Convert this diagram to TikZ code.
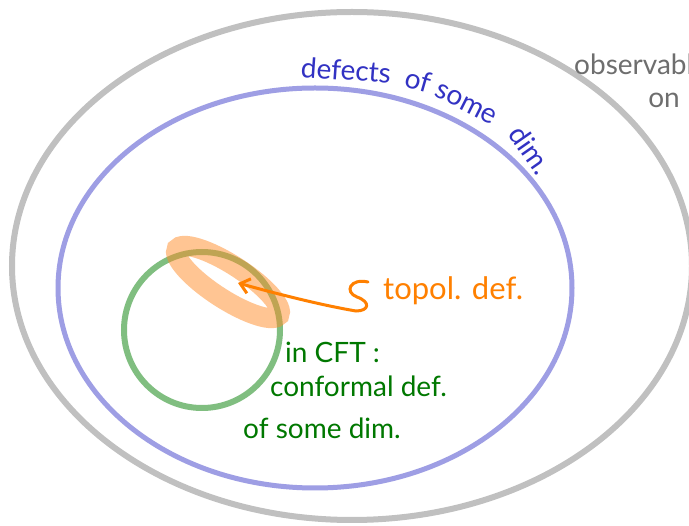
\documentclass[tikz,border=0pt]{standalone}
\usepackage{fontspec}
\setmainfont{Lato}
\usetikzlibrary{arrows.meta}
\definecolor{grayring}{RGB}{192,192,192}
\definecolor{bluering}{RGB}{158,158,228}
\definecolor{greenring}{RGB}{128,190,128}
\definecolor{orangeband}{RGB}{255,140,40}
\definecolor{orangetext}{RGB}{255,128,0}
\definecolor{bluetext}{RGB}{50,50,195}
\definecolor{greentext}{RGB}{0,120,0}
\definecolor{graytext}{RGB}{110,110,110}
\tikzset{
  ring/.style={line width=#1},
  lbl/.style={inner sep=0pt, font=\fontsize{28}{32}\selectfont},
}
\begin{document}
\begin{tikzpicture}[x=1pt,y=-1pt]
\useasboundingbox (0,0) rectangle (689,526);
\fill[white] (0,0) rectangle (689,526);
% outer ring: observables
\draw[ring=6pt, grayring] (352,266) ellipse [x radius=340, y radius=254];
% defects ring
\draw[ring=5pt, bluering] (315,288) ellipse [x radius=257, y radius=200];
% CFT circle
\draw[ring=6pt, greenring] (202,330) circle [radius=78];
% topological defect band
\draw[ring=20pt, orangeband, opacity=0.5, rotate around={-33:(228,282)}] (228,282) ellipse [x radius=61, y radius=17];
% labels
\node[lbl, text=graytext, anchor=west] (obs) at (574,64) {observabl};
\node[lbl, text=graytext] (on) at (664,100) {on};
\node[lbl, text=bluetext, rotate=-4] (w1) at (346,70) {defects};
\node[lbl, text=bluetext, rotate=-16] (w2) at (418,80) {of};
\node[lbl, text=bluetext, rotate=-27] (w3) at (466,104) {some};
\node[lbl, text=bluetext, rotate=-55] (w4) at (531,150) {dim.};
\node[lbl, text=orangetext, anchor=west, font=\fontsize{31}{34}\selectfont] (topo) at (383,291) {topol. def.};
\node[lbl, text=greentext, anchor=west] (cft1) at (285,352) {in CFT :};
\node[lbl, text=greentext, anchor=west] (cft2) at (270,386) {conformal def.};
\node[lbl, text=greentext, anchor=west] (cft3) at (243,428) {of some dim.};
% arrow with squiggle
\coordinate (sq) at (368,282);
\coordinate (tip) at (238,283);
\draw[orangetext, line width=3pt, line cap=round, -{Straight Barb[length=9pt,width=15pt]}]
  (sq) .. controls (350,278) and (344,292) .. (357,297)
  .. controls (371,302) and (369,311) .. (356,311)
  .. controls (320,305) and (270,292) .. (tip);
\end{tikzpicture}
\end{document}
